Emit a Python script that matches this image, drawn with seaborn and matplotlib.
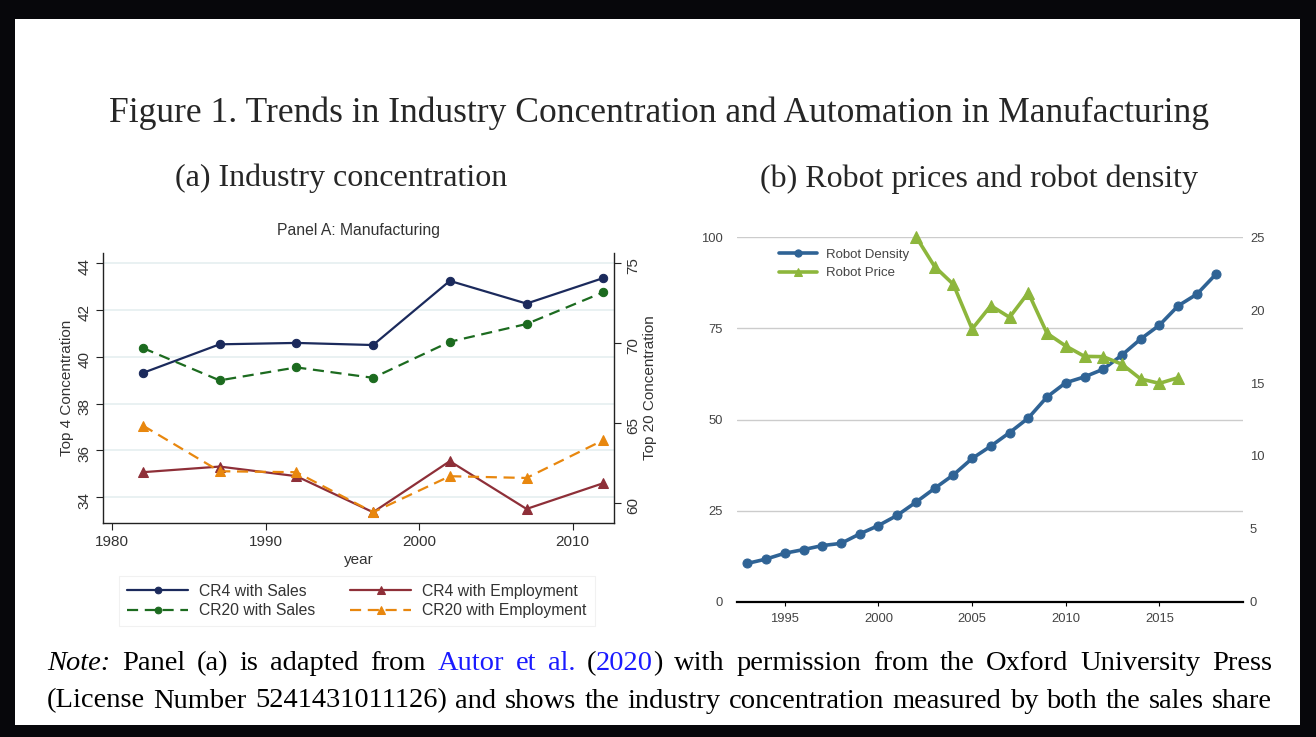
import seaborn as sns
import matplotlib.pyplot as plt
from matplotlib.patches import Rectangle

# panel (a): industry concentration (Autor et al.)
years_a = [1982, 1987, 1992, 1997, 2002, 2007, 2012]
cr4_sales = [39.31, 40.53, 40.59, 40.50, 43.24, 42.27, 43.36]
cr4_emp = [35.07, 35.31, 34.90, 33.36, 35.54, 33.50, 34.60]
cr20_sales = [69.67, 67.65, 68.46, 67.81, 70.06, 71.17, 73.15]
cr20_emp = [64.83, 61.98, 61.92, 59.42, 61.67, 61.56, 63.92]

# panel (b): robot density and robot price
years_b = list(range(1993, 2019))
robot_density = [10.5, 11.7, 13.3, 14.3, 15.4, 16.0, 18.6, 20.9, 23.7, 27.3,
                 31.1, 34.8, 39.3, 42.7, 46.4, 50.4, 56.2, 60.1, 61.7, 63.8,
                 67.7, 72.1, 75.9, 81.2, 84.4, 89.8]
price_years = list(range(2002, 2017))
robot_price = [25.05, 22.99, 21.77, 18.71, 20.31, 19.51, 21.20, 18.41, 17.54,
               16.83, 16.81, 16.29, 15.28, 14.98, 15.37]

sns.set_style('white')
plt.rcParams['font.family'] = ['Liberation Sans', 'DejaVu Sans']

navy, maroon, dkgreen, orange = '#1b2a5c', '#8e2f38', '#1c6b1f', '#e8870e'
blue, lime = '#2f6395', '#8db63c'
link = '#1a1aff'

W, H = 1316, 737
fig = plt.figure(figsize=(W / 100, H / 100), dpi=100, facecolor='#07070b')
fig.patches.append(Rectangle((15 / W, 1 - 725 / H), 1285 / W, 706 / H,
                             transform=fig.transFigure, facecolor='white',
                             edgecolor='none', zorder=-10))


def px(x, y):
    return x / W, 1 - y / H


serif = 'Liberation Serif'
fig.text(*px(659, 113), 'Figure 1. Trends in Industry Concentration and Automation in Manufacturing',
         family=serif, fontsize=25.6, ha='center', va='center')
fig.text(*px(341, 178), '(a) Industry concentration', family=serif, fontsize=23,
         ha='center', va='center')
fig.text(*px(979, 179), '(b) Robot prices and robot density', family=serif, fontsize=23,
         ha='center', va='center')

# ---- panel (a) ----
axA = fig.add_axes([103 / W, 1 - 523 / H, 511 / W, 270 / H])
axA2 = axA.twinx()
sns.lineplot(x=years_a, y=cr4_sales, ax=axA, color=navy, marker='o', markersize=6,
             markeredgecolor=navy, lw=1.6, label='CR4 with Sales', legend=False)
sns.lineplot(x=years_a, y=cr4_emp, ax=axA, color=maroon, marker='^', markersize=6.5,
             markeredgecolor=maroon, lw=1.6, label='CR4 with Employment', legend=False)
sns.lineplot(x=years_a, y=cr20_sales, ax=axA2, color=dkgreen, marker='o', markersize=6,
             markeredgecolor=dkgreen, lw=1.6, linestyle=(0, (5, 3)),
             label='CR20 with Sales', legend=False)
sns.lineplot(x=years_a, y=cr20_emp, ax=axA2, color=orange, marker='^', markersize=6.5,
             markeredgecolor=orange, lw=1.6, linestyle=(0, (5, 3)),
             label='CR20 with Employment', legend=False)

axA.set_xlim(1979.4, 2012.7)
axA.set_ylim(32.9, 44.43)
axA2.set_ylim(58.75, 75.6)
axA.set_xticks([1980, 1990, 2000, 2010])
axA.set_yticks([34, 36, 38, 40, 42, 44])
axA2.set_yticks([60, 65, 70, 75])
axA.yaxis.grid(True, color='#e3edef', lw=1.1)
axA.set_axisbelow(True)
for a in (axA, axA2):
    a.spines['top'].set_visible(False)
    for s in a.spines.values():
        s.set_color('#222222')
        s.set_linewidth(1.0)
axA.spines['right'].set_visible(False)
axA2.spines['left'].set_visible(False)
axA2.spines['bottom'].set_visible(False)
axA.tick_params(axis='both', direction='out', length=5, width=0.8, color='#222222',
                labelsize=11, labelcolor='#333333', left=True, bottom=True)
axA.tick_params(axis='y', labelrotation=90)
axA2.tick_params(axis='y', direction='out', length=5, width=0.8, color='#222222',
                 labelsize=11, labelcolor='#333333', labelrotation=90, right=True)
axA.set_xlabel('year', fontsize=11, color='#333333', labelpad=3)
axA.set_ylabel('Top 4 Concentration', fontsize=11, color='#333333', labelpad=2)
axA2.set_ylabel('Top 20 Concentration', fontsize=11, color='#333333', labelpad=2)
axA.set_title('Panel A: Manufacturing', fontsize=11.3, color='#333333', pad=13)

handlesA = [axA.get_lines()[0], axA2.get_lines()[0], axA.get_lines()[1], axA2.get_lines()[1]]
labelsA = [h.get_label() for h in handlesA]
legA = fig.legend(handlesA, labelsA, ncol=2, loc='center', bbox_to_anchor=px(357, 601),
                  fontsize=11.3, frameon=True, fancybox=False, handlelength=3.9,
                  columnspacing=2.2, handletextpad=0.7, labelspacing=0.3,
                  borderpad=0.5, markerscale=0.8)
legA.get_frame().set_edgecolor('#eeeeee')
legA.get_frame().set_linewidth(0.8)
for t in legA.get_texts():
    t.set_color('#333333')

# ---- panel (b) ----
axB = fig.add_axes([737 / W, 1 - 601.7 / H, 506 / W, 364.4 / H])
axB2 = axB.twinx()
sns.lineplot(x=years_b, y=robot_density, ax=axB, color=blue, marker='o', markersize=6.5,
             markeredgecolor=blue, lw=2.6, label='Robot Density', legend=False, clip_on=False)
sns.lineplot(x=price_years, y=robot_price, ax=axB2, color=lime, marker='^', markersize=8,
             markeredgecolor=lime, lw=2.6, label='Robot Price', legend=False, clip_on=False)
axB.set_xlim(1992.45, 2019.46)
axB.set_ylim(0, 100)
axB2.set_ylim(0, 25)
axB.set_xticks([1995, 2000, 2005, 2010, 2015])
axB.set_yticks([0, 25, 50, 75, 100])
axB2.set_yticks([0, 5, 10, 15, 20, 25])
axB.yaxis.grid(True, color='#cccccc', lw=1.0)
axB.set_axisbelow(True)
for a in (axB, axB2):
    for s in a.spines.values():
        s.set_visible(False)
axB.spines['bottom'].set_visible(True)
axB.spines['bottom'].set_color('black')
axB.spines['bottom'].set_linewidth(1.6)
axB.tick_params(axis='x', direction='out', length=3, color='black', labelsize=9.4,
                labelcolor='#444444', bottom=True, pad=5)
axB.tick_params(axis='y', length=0, labelsize=9.4, labelcolor='#444444', pad=10)
axB2.tick_params(axis='y', length=0, labelsize=9.4, labelcolor='#444444', pad=5)
axB.set_xlabel('')

legB = axB.legend([axB.get_lines()[0], axB2.get_lines()[0]], ['Robot Density', 'Robot Price'],
                  loc='upper left', bbox_to_anchor=px(767, 237), bbox_transform=fig.transFigure,
                  frameon=False, fontsize=9.5, handlelength=2.9, labelspacing=0.45,
                  handletextpad=0.7, markerscale=0.8)
for t in legB.get_texts():
    t.set_color('#444444')

# ---- note below (justified lines) ----
fig.canvas.draw()
renderer = fig.canvas.get_renderer()
note_size = 20.5


def justified(words, y, left=47, right=1272):
    # words: list of lists of (text, colour, style) pieces drawn without gaps
    placed = []
    for word in words:
        parts = []
        for txt, col, sty in word:
            t = fig.text(0, 0, txt, family=serif, fontsize=note_size, color=col,
                         style=sty, ha='left', va='center')
            parts.append((t, t.get_window_extent(renderer).width))
        placed.append(parts)
    total = sum(w for parts in placed for _, w in parts)
    gap = (right - left - total) / (len(placed) - 1)
    x = left
    for parts in placed:
        for t, w in parts:
            t.set_position(px(x, y))
            x += w
        x += gap


line1 = [[('Note:', 'black', 'italic')]]
line1 += [[(w, 'black', 'normal')] for w in 'Panel (a) is adapted from'.split()]
line1 += [[('Autor', link, 'normal')], [('et', link, 'normal')], [('al.', link, 'normal')]]
line1 += [[('(', 'black', 'normal'), ('2020', link, 'normal'), (')', 'black', 'normal')]]
line1 += [[(w, 'black', 'normal')] for w in
          'with permission from the Oxford University Press'.split()]
line2 = [[(w, 'black', 'normal')] for w in
         ('(License Number 5241431011126) and shows the industry concentration '
          'measured by both the sales share').split()]
justified(line1, 664)
justified(line2, 701)

fig.savefig('out.png', dpi=100, facecolor=fig.get_facecolor())
